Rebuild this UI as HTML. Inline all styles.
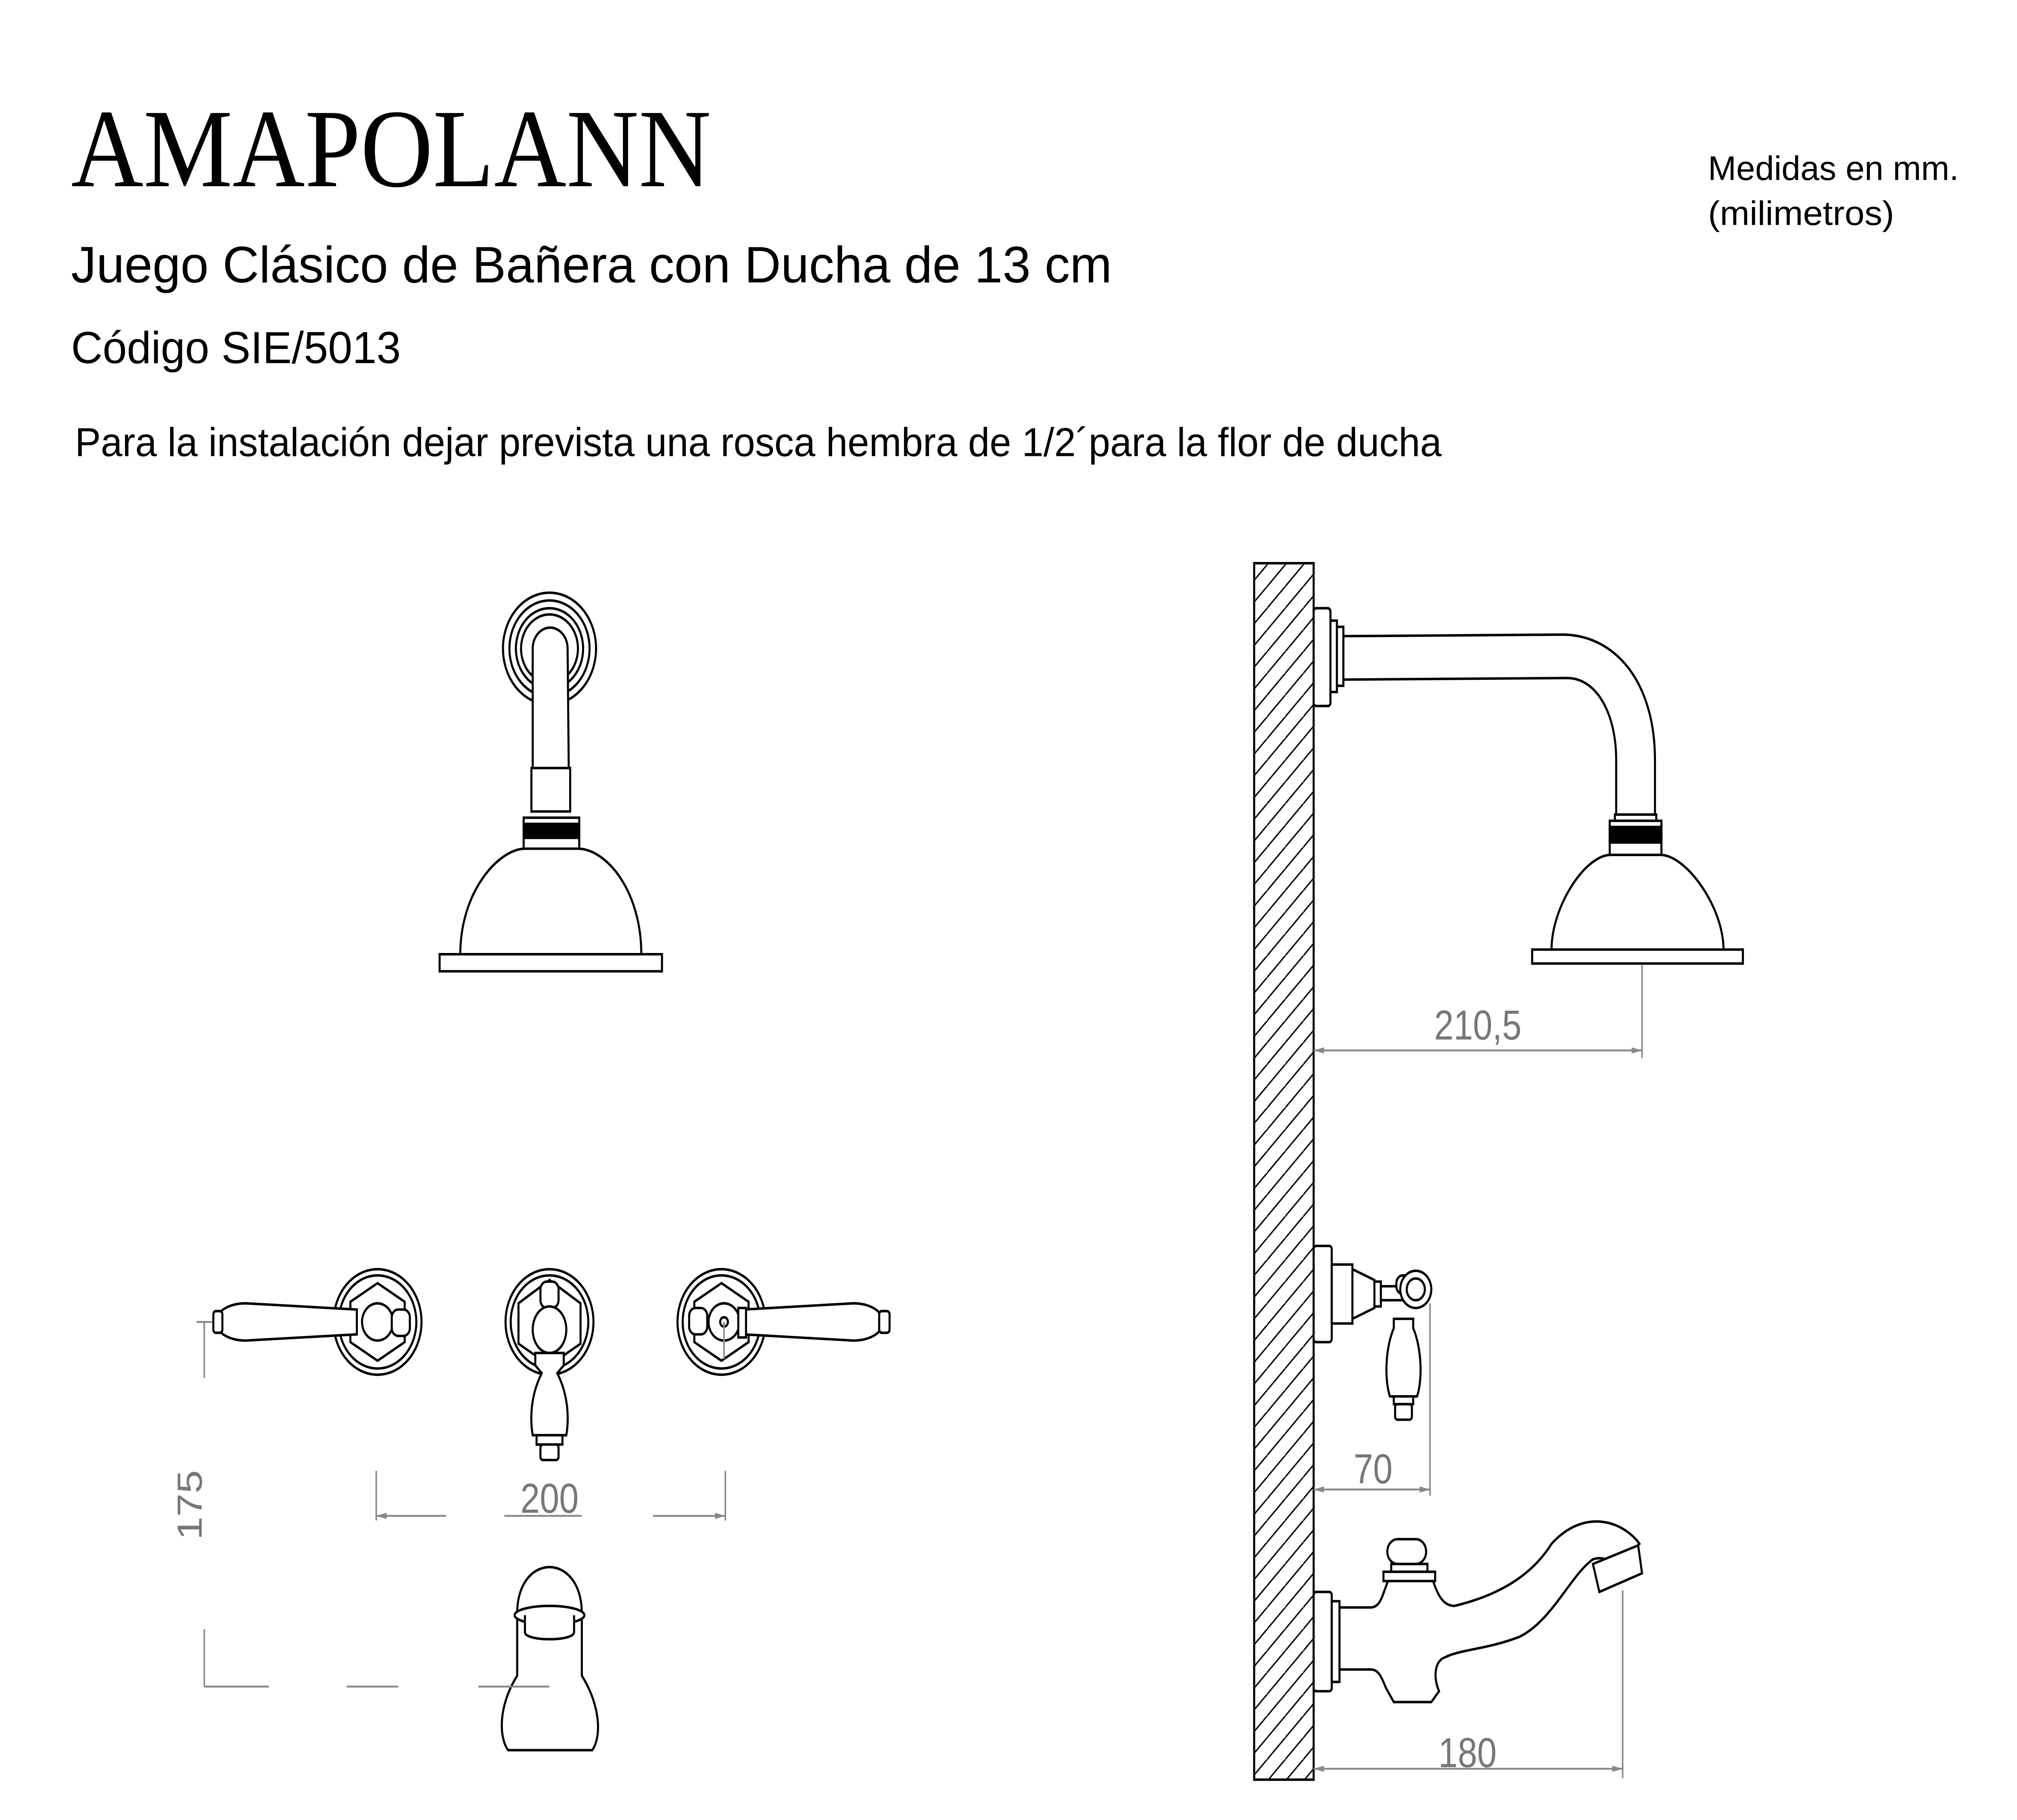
<!DOCTYPE html>
<html><head><meta charset="utf-8"><style>
html,body{margin:0;padding:0;background:#fff;width:100%;height:100%;overflow:hidden}
svg{display:block;width:100vw;height:100vh}
</style></head><body>
<svg viewBox="0 0 1560 1173" preserveAspectRatio="none" xmlns="http://www.w3.org/2000/svg">
<defs>
<pattern id="h" patternUnits="userSpaceOnUse" width="14" height="14">
<path d="M-2,16 L16,-2 M-16,16 L2,-2 M12,30 L30,12" stroke="#000" stroke-width="1"/>
</pattern>
</defs>
<g font-family="'Liberation Sans',sans-serif">
<text x="55" y="120" font-family="'Liberation Serif',serif" font-size="72" textLength="495" lengthAdjust="spacingAndGlyphs">AMAPOLANN</text>
<text x="55" y="182" font-size="33" textLength="805" lengthAdjust="spacingAndGlyphs">Juego Clásico de Bañera con Ducha de 13 cm</text>
<text x="55" y="234" font-size="29" textLength="255" lengthAdjust="spacingAndGlyphs">Código SIE/5013</text>
<text x="58" y="294" font-size="26" textLength="1057" lengthAdjust="spacingAndGlyphs">Para la instalación dejar prevista una rosca hembra de 1/2´para la flor de ducha</text>
<text x="1321" y="116" font-size="22" textLength="194" lengthAdjust="spacingAndGlyphs">Medidas en mm.</text>
<text x="1321" y="145" font-size="22" textLength="144" lengthAdjust="spacingAndGlyphs">(milimetros)</text>
</g>

<g fill="#fff" stroke="#000" stroke-width="1.6">
<circle cx="425" cy="418" r="36"/><circle cx="425" cy="418" r="31"/><circle cx="425" cy="418" r="26"/><circle cx="425" cy="418" r="22"/>
<path d="M412,430 L412,418 A13.5,13.5 0 0 1 439,418 L440,505 L412,505 Z"/>
<rect x="411" y="495" width="30" height="28"/>
<rect x="405" y="527" width="43" height="20"/>
<rect x="405" y="531" width="43" height="9" fill="#000"/>
<path d="M356,615 C356,575 385,548 405,547 L448,547 C470,548 496,575 496,615 Z"/>
<rect x="340" y="615" width="172" height="11"/>

<rect x="970" y="363" width="46" height="784" fill="url(#h)"/>

<rect x="1016" y="392" width="13" height="63" rx="2"/>
<rect x="1029" y="400" width="5" height="46"/>
<rect x="1034" y="404" width="5" height="38"/>
<path d="M1039,410 L1210,409 C1250,410 1280,440 1280,490 L1280,525 L1250,525 L1250,490 C1250,460 1235,437 1212,437 L1039,438 Z"/>
<rect x="1249" y="525" width="32" height="22"/>
<rect x="1245" y="529" width="40" height="22"/>
<rect x="1245" y="533" width="40" height="10" fill="#000"/>
<path d="M1200,612 C1200,585 1225,552 1245,551 L1285,551 C1305,552 1333,585 1333,612 Z"/>
<rect x="1185" y="612" width="163" height="9"/>

<circle cx="292" cy="852" r="34"/><circle cx="292" cy="852" r="30"/>
<polygon points="292,827 313,839 313,865 292,877 271,865 271,839"/>
<circle cx="292" cy="852" r="12"/>
<path d="M276,844 L190,840 C180,840 173,843 170,846 L170,858 C173,861 180,864 190,864 L276,860 Z"/>
<rect x="165" y="845" width="7" height="14" rx="2"/>
<rect x="303" y="844" width="14" height="17" rx="5"/>

<circle cx="425" cy="852" r="34"/><circle cx="425" cy="852" r="30"/>
<polygon points="425,825 449,840 449,866 425,880 401,866 401,840"/>
<rect x="418" y="826" width="14" height="17" rx="5"/>
<ellipse cx="425" cy="857" rx="13" ry="15"/>
<path d="M414,872 L436,872 L436,880 L431,885 C440,900 440,915 438,925 L412,925 C410,915 410,900 419,885 L414,880 Z"/>
<rect x="415" y="925" width="20" height="6"/>
<rect x="418" y="931" width="14" height="10" rx="2"/>

<circle cx="558" cy="852" r="34"/><circle cx="558" cy="852" r="30"/>
<polygon points="558,827 579,839 579,865 558,877 537,865 537,839"/>
<circle cx="560" cy="852" r="12"/>
<circle cx="560" cy="852" r="3"/>
<rect x="533" y="843" width="14" height="17" rx="5"/>
<path d="M575,844 L660,840 C670,840 677,843 680,846 L680,858 C677,861 670,864 660,864 L575,860 Z"/>
<rect x="571" y="843" width="6" height="19"/>
<rect x="680" y="845" width="8" height="14" rx="2"/>

<path d="M400,1040 C400,1000 450,1000 450,1040 L450,1080 C465,1100 465,1120 458,1128 L393,1128 C386,1120 385,1100 400,1080 Z"/>
<ellipse cx="425" cy="1041" rx="27" ry="6"/>
<path d="M406,1041 L406,1052 C406,1058 444,1058 444,1052 L444,1041"/>

<rect x="1016" y="803" width="14" height="62" rx="2"/>
<rect x="1030" y="815" width="16" height="38"/>
<path d="M1046,818 L1063,825 L1063,843 L1046,850 Z"/>
<rect x="1063" y="826" width="5" height="16"/>
<rect x="1068" y="829" width="20" height="9"/>
<rect x="1080" y="822" width="16" height="12" rx="5"/>
<circle cx="1095" cy="831" r="12"/><circle cx="1095" cy="831" r="7"/>
<path d="M1078,850 L1093,850 L1093,856 C1100,870 1100,890 1096,900 L1075,900 C1071,890 1071,870 1078,856 Z"/>
<rect x="1078" y="900" width="15" height="5"/>
<rect x="1079" y="905" width="13" height="10" rx="2"/>

<rect x="1016" y="1026" width="14" height="64" rx="2"/>
<rect x="1030" y="1032" width="6" height="52"/>
<path d="M1036,1036 L1060,1036 C1068,1036 1069,1028 1074,1018 L1108,1018 C1112,1028 1116,1035 1125,1035 C1160,1028 1185,1015 1200,995 C1225,972 1255,980 1268,995 L1246,1012 C1245,1005 1240,1003 1232,1005 C1215,1015 1200,1045 1175,1055 C1150,1063 1130,1063 1118,1068 C1110,1070 1108,1080 1113,1090 L1107,1097 L1078,1097 L1072,1088 C1068,1080 1066,1076 1060,1076 L1036,1076 Z"/>
<polygon points="1232,1008 1267,996 1270,1014 1237,1026"/>
<rect x="1070" y="1013" width="40" height="6"/>
<rect x="1076" y="1008" width="28" height="5"/>
<rect x="1073" y="992" width="30" height="16" rx="8"/>
</g>

<g stroke="#888" stroke-width="1.2" fill="none">
<path d="M1016,677 L1270,677 M1270,622 L1270,682"/>
<path d="M1016,960 L1106,960 M1106,840 L1106,964"/>
<path d="M1016,1140 L1255,1140 M1255,1025 L1255,1146"/>
<path d="M291,977 L345,977 M390,977 L450,977 M505,977 L561,977 M291,948 L291,980 M561,948 L561,980 M560,852 L560,876"/>
<path d="M158,852 L158,888 M158,1050 L158,1087 M152,852 L164,852 M158,1087 L208,1087 M268,1087 L308,1087 M370,1087 L425,1087"/>
</g>
<g fill="#888">
<polygon points="1016,677 1024,675 1024,679"/><polygon points="1270,677 1262,675 1262,679"/>
<polygon points="1016,960 1024,958 1024,962"/><polygon points="1106,960 1098,958 1098,962"/>
<polygon points="1016,1140 1024,1138 1024,1142"/><polygon points="1255,1140 1247,1138 1247,1142"/>
<polygon points="561,977 553,975 553,979"/><polygon points="291,977 299,975 299,979"/>
</g>
<g fill="#777" font-family="'Liberation Sans',sans-serif" font-size="27" text-anchor="middle">
<text x="1143" y="670">210,5</text>
<text x="1062" y="956">70</text>
<text x="1135" y="1139">180</text>
<text x="425" y="975">200</text>
<text transform="translate(156,970) rotate(-90)">175</text>
</g>
</svg>
</body></html>
